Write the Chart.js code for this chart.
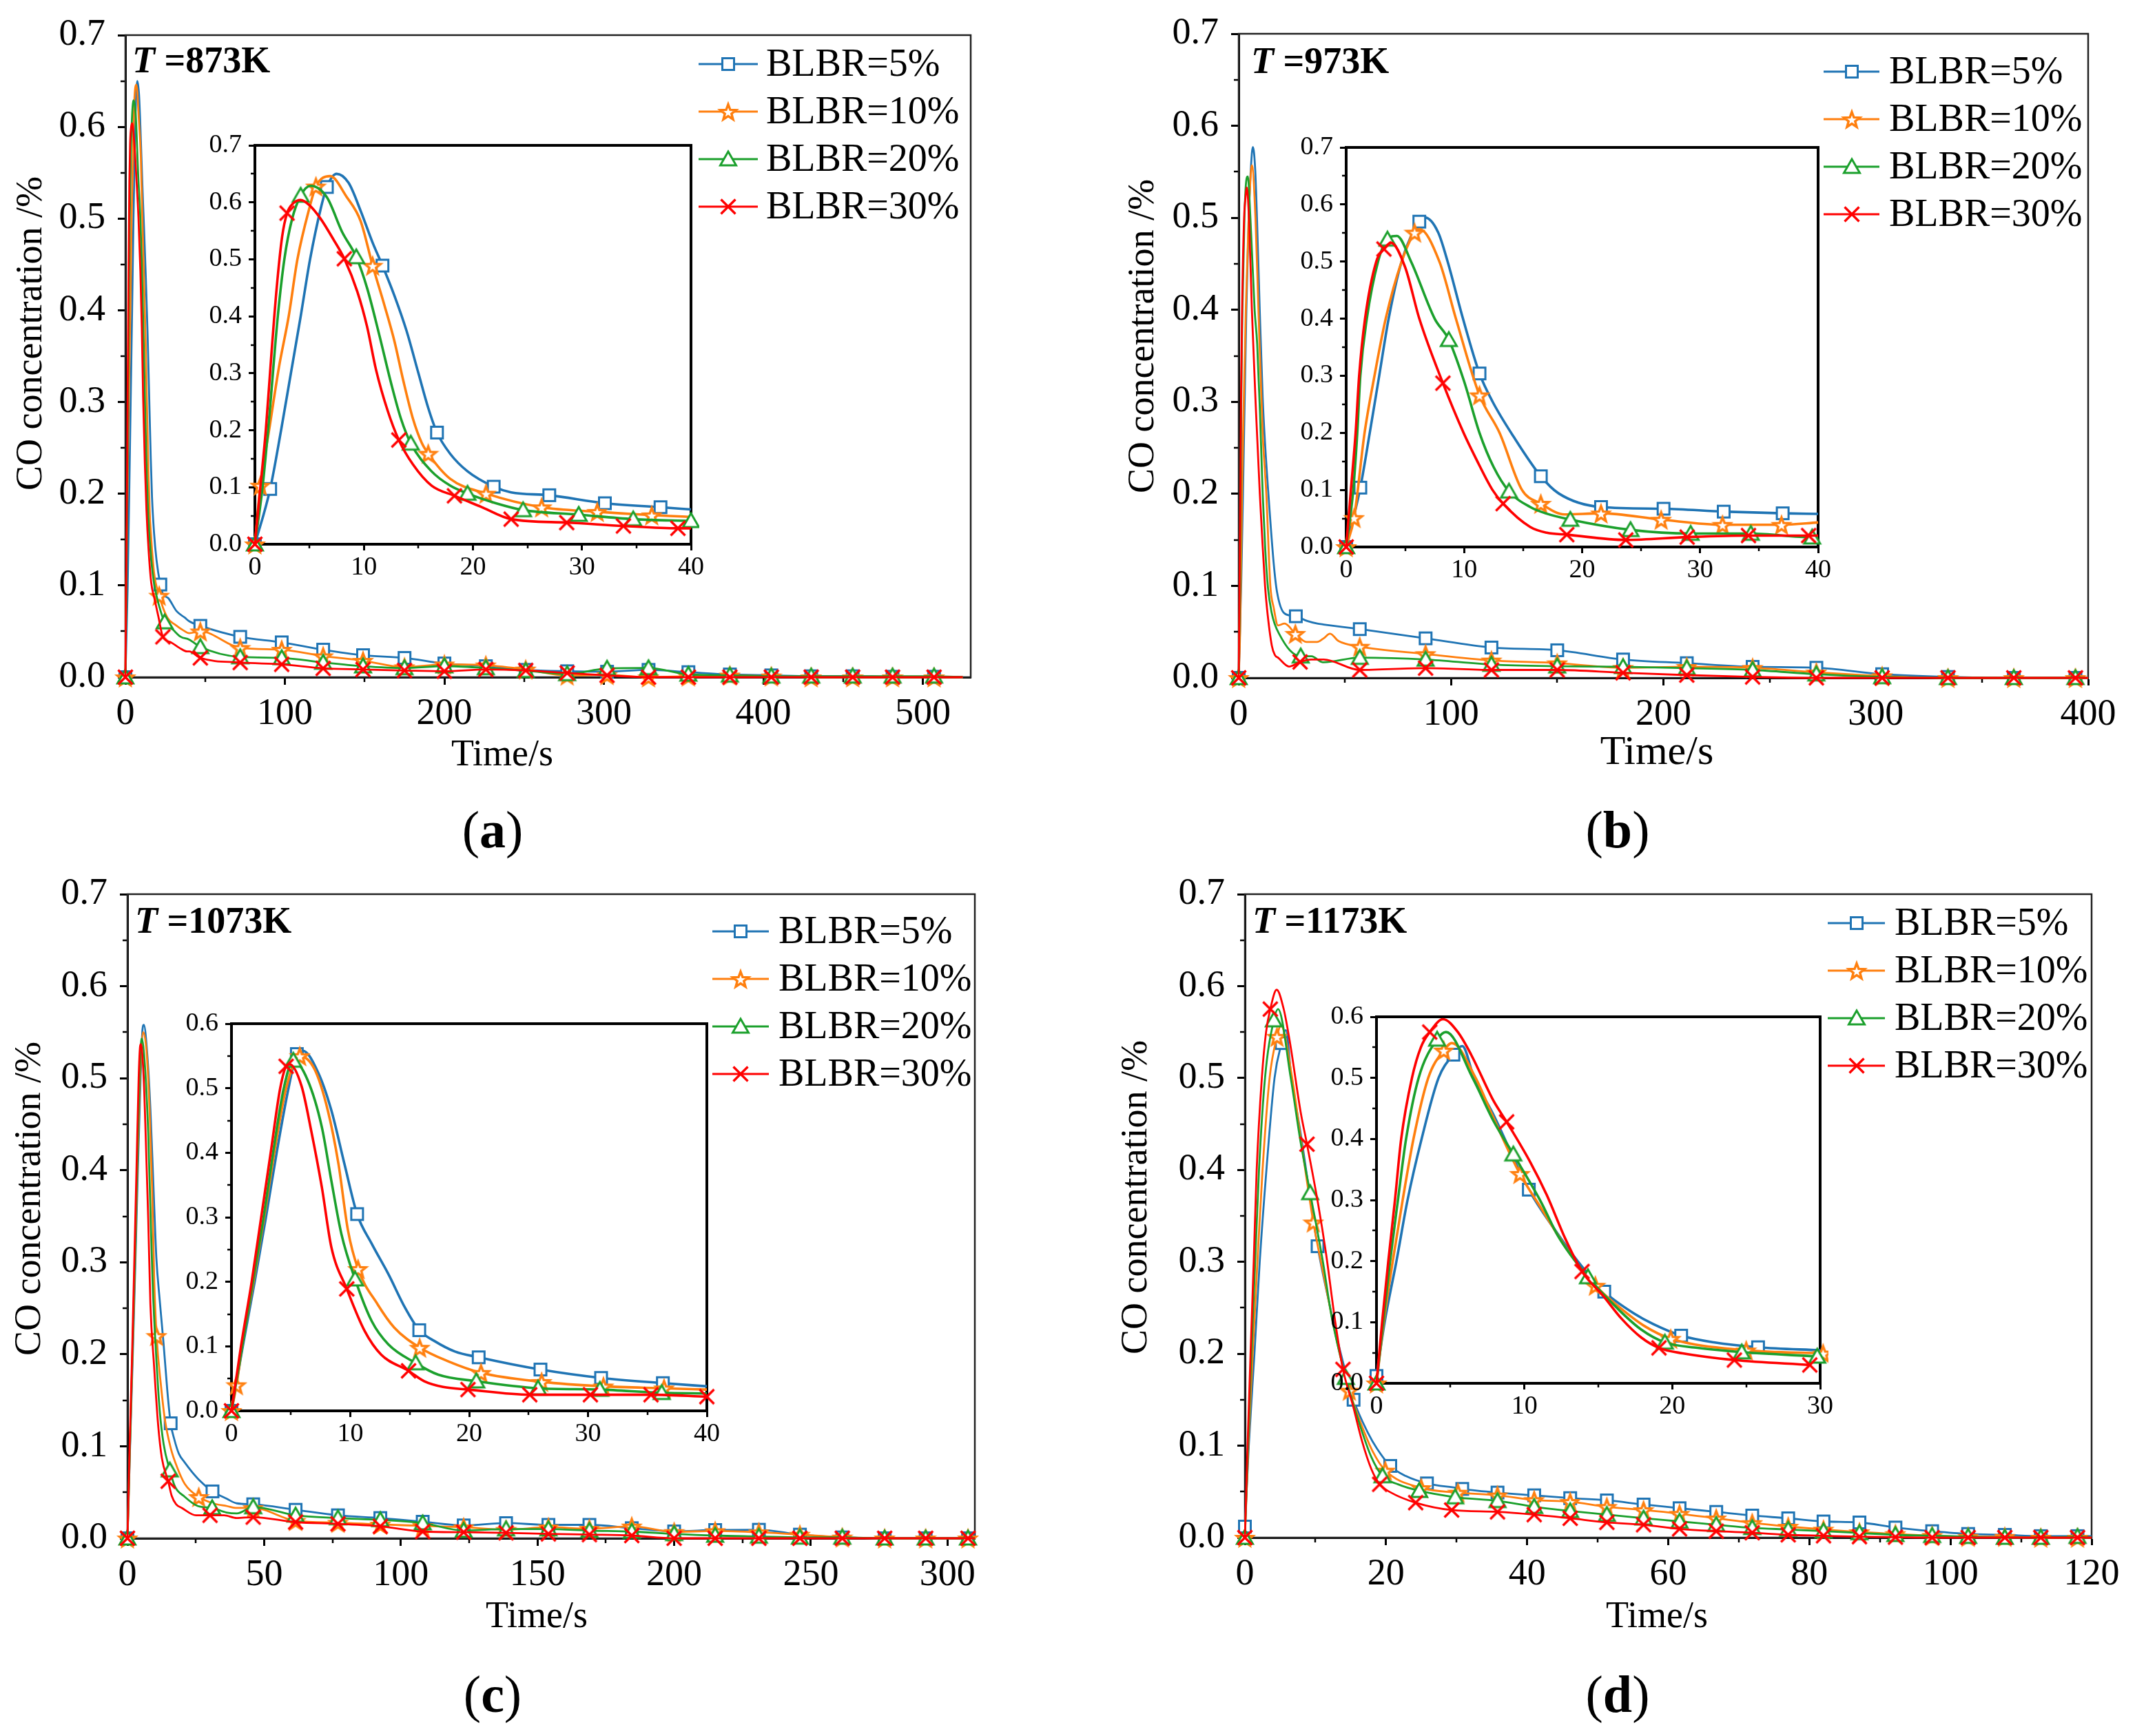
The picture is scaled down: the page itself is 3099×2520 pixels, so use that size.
<!DOCTYPE html>
<html>
<head>
<meta charset="utf-8">
<title>CO concentration vs time, BLBR 5-30%</title>
<script src="https://cdn.jsdelivr.net/npm/chart.js@4.4.1/dist/chart.umd.min.js"></script>
<style>
  html, body { margin: 0; padding: 0; background: #fff; }
  #figure { position: relative; width: 3099px; height: 2520px; background: #fff; overflow: hidden; }
  #figure canvas { position: absolute; }
</style>
</head>
<body>
<div id="figure"></div>
<script>
// ---------- data ----------
// each curve: [time s, CO %] pairs for the first ~40 s, then values on the panel's shared tail times
// *_ins = times that carry a marker in the inset, *_main = early times that carry a marker in the big plot

// (a) T = 873 K
const A_tailT = [47, 72, 98, 124, 149, 175, 200, 226, 251, 277, 302, 328, 353, 379, 405, 430, 456, 481, 507, 525];
const A5 = [[0,0],[1.4,0.097],[2.4,0.2],[3.3,0.3],[4.2,0.4],[5.06,0.5],[6.05,0.59],[6.6,0.627],[7.5,0.65],[8.6,0.634],[9.7,0.585],[10.8,0.529],[11.7,0.489],[12.8,0.436],[13.9,0.375],[15,0.3],[15.9,0.239],[16.7,0.196],[17.9,0.159],[19.5,0.128],[21.9,0.101],[23.5,0.091],[27,0.086],[32.1,0.072],[37.2,0.065],[40,0.061]];
const A5_tail = [0.056,0.044,0.038,0.030,0.024,0.021,0.015,0.012,0.008,0.0065,0.006,0.008,0.0055,0.003,0.002,0.001,0.001,0.0005,0.0005,0.0005];
const A5_ins = [0, 1.4, 6.6, 11.7, 16.7, 21.9, 27, 32.1, 37.2];
const A5_main = [0, 21.9];
const A10 = [[0,0],[0.5,0.103],[1.3,0.2],[2.2,0.31],[3.1,0.4],[3.9,0.5],[5,0.59],[5.6,0.628],[6.9,0.646],[8.4,0.61],[9.7,0.567],[10.8,0.489],[11.9,0.418],[12.8,0.356],[13.6,0.288],[14.5,0.22],[15.3,0.178],[15.9,0.159],[17.9,0.115],[21.2,0.089],[26.3,0.065],[31.4,0.057],[36.4,0.051],[40,0.048]];
const A10_tail = [0.050,0.032,0.030,0.023,0.018,0.011,0.014,0.013,0.0085,0.002,0.0025,0,0.001,0.002,0.001,0,0,0,0,0];
const A10_ins = [0, 0.5, 5.6, 10.8, 15.9, 21.2, 26.3, 31.4, 36.4];
const A10_main = [0, 21.2];
const A20 = [[0,0],[0.7,0.1],[1.3,0.22],[2.1,0.4],[2.7,0.5],[3.4,0.57],[4.2,0.612],[5.1,0.629],[6.6,0.609],[8,0.548],[9.3,0.504],[10.3,0.449],[11.4,0.368],[12.5,0.282],[13.4,0.22],[14.3,0.177],[16.2,0.128],[17.9,0.103],[19.5,0.089],[22.1,0.072],[24.6,0.06],[29.7,0.052],[34.7,0.044],[40,0.041]];
const A20_tail = [0.033,0.022,0.021,0.016,0.012,0.010,0.012,0.010,0.007,0.0035,0.0095,0.010,0.003,0.002,0.001,0.001,0.001,0.001,0.001,0];
const A20_ins = [0, 4.2, 9.3, 14.3, 19.5, 24.6, 29.7, 34.7, 40];
const A20_main = [0, 24.6];
const A30 = [[0,0],[0.5,0.1],[1,0.2],[1.5,0.33],[2,0.45],[2.5,0.54],[2.95,0.581],[3.5,0.598],[4.2,0.604],[5,0.595],[6,0.572],[7.2,0.535],[8.2,0.501],[9.4,0.443],[10.3,0.381],[11.1,0.307],[12.2,0.233],[13.2,0.183],[14.5,0.14],[16.2,0.103],[18.3,0.085],[20.7,0.066],[23.5,0.044],[28.6,0.038],[33.8,0.032],[38.8,0.028],[40,0.028]];
const A30_tail = [0.021,0.016,0.014,0.0096,0.0084,0.0073,0.0065,0.0084,0.0073,0.0046,0.002,0,0,0,0,0,0,0,0,0];
const A30_ins = [0, 2.95, 8.2, 13.2, 18.3, 23.5, 28.6, 33.8, 38.8];
const A30_main = [0, 23.5];

// (b) T = 973 K
const B_tailT = [57, 88, 119, 150, 181, 211, 242, 272, 303, 334, 365, 394, 400];
const B5 = [[0,0],[1.2,0.104],[2,0.2],[2.8,0.3],[3.6,0.4],[4.7,0.5],[6.2,0.57],[6.7,0.577],[7.8,0.551],[8.6,0.5],[9.9,0.4],[11.3,0.304],[12.4,0.255],[14.2,0.193],[16.5,0.124],[18,0.094],[21.6,0.07],[26.9,0.067],[32,0.062],[37,0.059],[40,0.058]];
const B5_tail = [0.053,0.043,0.033,0.030,0.020,0.016,0.012,0.011,0.004,0.001,0,0,0];
const B5_ins = [0, 1.2, 6.2, 11.3, 16.5, 21.6, 26.9, 32, 37];
const B5_main = [0, 26.9];
const B10 = [[0,0],[0.67,0.051],[1.56,0.2],[2.4,0.3],[3.35,0.4],[4.7,0.5],[5.8,0.551],[6.2,0.557],[7.9,0.5],[9.3,0.4],[11.3,0.266],[13,0.2],[14.9,0.1],[16.5,0.076],[18.5,0.057],[21.6,0.059],[26.7,0.048],[31.9,0.039],[36.9,0.039],[40,0.043],[43,0.048],[47,0.04]];
const B10_tail = [0.034,0.026,0.019,0.016,0.011,0.012,0.011,0.006,0.002,0,0,0,0];
const B10_ins = [0, 0.67, 5.8, 11.3, 16.5, 21.6, 26.7, 31.9, 36.9];
const B10_main = [0, 26.7];
const B20 = [[0,0],[0.6,0.1],[0.94,0.2],[1.2,0.3],[1.75,0.4],[2.7,0.5],[3.5,0.539],[4.3,0.545],[5.5,0.5],[7.5,0.4],[8.7,0.363],[10,0.29],[11.3,0.2],[12.5,0.14],[13.8,0.0975],[15.6,0.07],[16.9,0.059],[19,0.048],[24.1,0.03],[29.2,0.0235],[34.3,0.0235],[39.5,0.017],[40,0.017]];
const B20_tail = [0.022,0.020,0.0145,0.0126,0.012,0.0106,0.0086,0.004,0.001,0,0,0,0];
const B20_ins = [0, 3.5, 8.7, 13.8, 19, 24.1, 29.2, 34.3, 39.5];
const B20_main = [0, 29.2];
const B30 = [[0,0],[0.4,0.1],[0.8,0.2],[1.1,0.3],[1.6,0.4],[2.55,0.5],[3.2,0.522],[3.8,0.533],[5,0.49],[6.2,0.4],[8.2,0.287],[9.95,0.2],[11,0.155],[12.4,0.1],[13.3,0.076],[15.6,0.035],[17,0.025],[18.7,0.0216],[23.7,0.0123],[28.9,0.0173],[34.1,0.02],[39.2,0.02],[40,0.02]];
const B30_tail = [0.0086,0.0106,0.0086,0.0086,0.0055,0.003,0.001,0,0,0,0,0,0];
const B30_ins = [0, 3.2, 8.2, 13.3, 18.7, 23.7, 28.9, 34.1, 39.2];
const B30_main = [0, 28.9];

// (c) T = 1073 K
const C_tailT = [46, 61.5, 77, 92.5, 108, 123, 138.5, 154, 169, 184.5, 200, 215, 231, 246, 261.5, 277, 292, 307.5, 310];
const C5 = [[0,0],[0.95,0.1],[1.95,0.2],[2.9,0.3],[3.8,0.4],[4.8,0.5],[5.5,0.553],[6,0.558],[7.3,0.524],[8.4,0.466],[9.5,0.383],[10.57,0.305],[11.8,0.259],[13.2,0.212],[14.6,0.16],[15.8,0.125],[17.1,0.108],[18.8,0.092],[20.8,0.083],[26,0.064],[31.1,0.051],[36.3,0.043],[40,0.038]];
const C5_tail = [0.037,0.031,0.025,0.022,0.018,0.014,0.0165,0.0146,0.0146,0.011,0.0075,0.009,0.0093,0.004,0.001,0,0,0,0];
const C5_ins = [0, 5.5, 10.57, 15.8, 20.8, 26, 31.1, 36.3];
const C5_main = [0, 15.8, 31.1];
const C10 = [[0,0],[0.42,0.04],[0.9,0.1],[1.85,0.2],[2.75,0.3],[3.6,0.4],[4.6,0.5],[5.75,0.55],[7,0.529],[8.1,0.466],[9,0.383],[9.8,0.28],[10.65,0.22],[12.3,0.165],[13.7,0.129],[15.84,0.098],[18.2,0.077],[21,0.059],[26.1,0.045],[31.3,0.038],[36.4,0.035],[40,0.033]];
const C10_tail = [0.033,0.019,0.017,0.015,0.0135,0.012,0.0093,0.012,0.0104,0.013,0.007,0.008,0.0066,0.004,0.001,0,0,0,0];
const C10_ins = [0, 0.42, 5.75, 10.65, 15.84, 21, 26.1, 31.3, 36.4];
const C10_main = [0, 10.65, 26.1];
const C20 = [[0,0],[0.9,0.1],[1.8,0.2],[2.7,0.3],[3.5,0.4],[4.4,0.5],[5.2,0.543],[6.4,0.513],[7.6,0.44],[8.4,0.357],[9.25,0.274],[10.4,0.204],[11.8,0.139],[13.2,0.103],[15.5,0.074],[17.4,0.056],[20.6,0.046],[25.8,0.035],[31,0.033],[36.2,0.028],[40,0.027]];
const C20_tail = [0.034,0.025,0.022,0.020,0.0165,0.0084,0.010,0.010,0.0084,0.0073,0.0048,0.003,0.002,0.001,0.001,0,0,0,0];
const C20_ins = [0, 5.2, 10.4, 15.5, 20.6, 25.8, 31, 36.2];
const C20_main = [0, 15.5, 31];
const C30 = [[0,0],[0.8,0.1],[1.7,0.2],[2.5,0.3],[3.3,0.4],[4.1,0.5],[4.6,0.534],[4.9,0.537],[5.9,0.503],[6.7,0.435],[7.6,0.347],[8.4,0.254],[9.7,0.189],[11.2,0.124],[12.6,0.087],[14.9,0.062],[16.2,0.046],[17.8,0.037],[19.9,0.033],[25.1,0.025],[30.2,0.025],[35.3,0.025],[40,0.022]];
const C30_tail = [0.023,0.0176,0.0157,0.013,0.0073,0.0066,0.0059,0.0048,0.004,0.003,0,0,0,0,0,0,0,0,0];
const C30_ins = [0, 4.6, 9.7, 14.9, 19.9, 25.1, 30.2, 35.3, 40];
const C30_main = [0, 14.9, 30.2];

// (d) T = 1173 K
const D_tailT = [35.8, 41, 46.1, 51.3, 56.5, 61.6, 66.8, 71.9, 77, 82, 87.1, 92.2, 97.4, 102.5, 107.7, 112.8, 118, 120];
const D5 = [[0,0.012],[0.55,0.1],[1.35,0.2],[2.1,0.3],[3.05,0.4],[4.2,0.5],[5.2,0.538],[5.8,0.552],[6.6,0.5],[7.9,0.44],[10.3,0.317],[12.1,0.25],[13.6,0.2],[15.4,0.15],[17.5,0.113],[18.7,0.097],[20.6,0.078],[22.8,0.067],[25.8,0.059],[30,0.054],[30.8,0.053]];
const D5_tail = [0.049,0.046,0.043,0.0405,0.036,0.032,0.028,0.024,0.021,0.0176,0.0165,0.011,0.007,0.004,0.003,0.0016,0.0016,0.0015];
const D5_ins = [0, 5.2, 10.3, 15.4, 20.6, 25.8];
const D5_main = [0, 5.2, 10.3, 15.4, 20.6, 25.8, 30.8];
const D10 = [[0,0],[0.49,0.1],[1.1,0.2],[1.77,0.3],[2.5,0.4],[3.5,0.5],[4.55,0.545],[5.1,0.557],[6.7,0.5],[7.9,0.435],[9.7,0.343],[11.1,0.288],[13.2,0.208],[14.8,0.16],[16.4,0.125],[18.1,0.094],[19.9,0.073],[25,0.054],[30.2,0.049]];
const D10_tail = [0.046,0.041,0.039,0.0335,0.030,0.026,0.021,0.016,0.012,0.0088,0.006,0.004,0.002,0.001,0.001,0,0,0];
const D10_ins = [0, 4.55, 9.7, 14.8, 19.9, 25, 30.2];
const D10_main = [0, 4.55, 9.7, 14.8, 19.9, 25, 30.2];
const D20 = [[0,0],[0.45,0.1],[0.92,0.2],[1.45,0.3],[2,0.4],[2.85,0.5],[4.1,0.563],[4.7,0.575],[6.5,0.5],[7.9,0.43],[9.25,0.375],[11.1,0.298],[12.3,0.24],[14.3,0.174],[16.4,0.12],[17.9,0.088],[19.5,0.067],[21.7,0.058],[24.7,0.051],[29.8,0.044]];
const D20_tail = [0.040,0.0335,0.029,0.025,0.021,0.0176,0.014,0.0106,0.0088,0.007,0.005,0.003,0.002,0.001,0,0,0.001,0];
const D20_ins = [0, 4.1, 9.25, 14.3, 19.5, 24.7, 29.8];
const D20_main = [0, 4.1, 9.25, 14.3, 19.5, 24.7, 29.8];
const D30 = [[0,0],[0.38,0.1],[0.8,0.2],[1.25,0.3],[1.67,0.4],[2.4,0.5],[3,0.55],[3.6,0.575],[4.5,0.596],[5.5,0.575],[6.4,0.538],[7.9,0.463],[8.8,0.428],[10.4,0.362],[11.5,0.309],[12.8,0.235],[13.9,0.183],[15.3,0.144],[16.6,0.105],[17.9,0.075],[19.1,0.058],[20.7,0.049],[24.2,0.038],[29.3,0.03]];
const D30_tail = [0.028,0.025,0.021,0.0166,0.014,0.0095,0.007,0.0053,0.003,0.002,0.001,0.0005,0,0,0,0,0,0];
const D30_ins = [0, 3.6, 8.8, 13.9, 19.1, 24.2, 29.3];
const D30_main = [0, 3.6, 8.8, 13.9, 19.1, 24.2, 29.3];

const SERIES_LABELS = ['BLBR=5%', 'BLBR=10%', 'BLBR=20%', 'BLBR=30%'];
const TEMPS = ['873K', '973K', '1073K', '1173K'];

// ---------- look ----------
const COLORS = ['#1f74b4', '#ff7f0e', '#1ba02c', '#ff0000'];
const MARKER_KINDS = ['square', 'star', 'triangle', 'cross'];
const SERIF = '"Liberation Serif", "Times New Roman", serif';

// layout of the four panels, page pixels
const PANELS = [
  { tag: 'a', box: [0, 0, 1549, 1260], area: [182, 51, 1409, 983], xMax: 530, xStep: 100,
    inset: [370, 211, 1003, 790], insMax: 40, insY: 0.7, legend: [1014, 1100, 1112, 93],
    tLab: [192, 91], xTitle: [729, 1097], yTitle: [46, 484], tagPos: [715, 1230], xTitleSize: 54,
    tailT: A_tailT, series: [[A5, A5_tail, A5_ins, A5_main], [A10, A10_tail, A10_ins, A10_main], [A20, A20_tail, A20_ins, A20_main], [A30, A30_tail, A30_ins, A30_main]] },
  { tag: 'b', box: [1549, 0, 1550, 1260], area: [1798, 49, 3031, 984], xMax: 400, xStep: 100,
    inset: [1954, 214, 2639, 794], insMax: 40, insY: 0.7, legend: [2647, 2728, 2742, 104],
    tLab: [1816, 92], xTitle: [2405, 1093], yTitle: [1660, 488], tagPos: [2348, 1230], xTitleSize: 60,
    tailT: B_tailT, series: [[B5, B5_tail, B5_ins, B5_main], [B10, B10_tail, B10_ins, B10_main], [B20, B20_tail, B20_ins, B20_main], [B30, B30_tail, B30_ins, B30_main]] },
  { tag: 'c', box: [0, 1260, 1549, 1260], area: [185, 1298, 1415, 2233], xMax: 310, xStep: 50,
    inset: [336, 1486, 1026, 2048], insMax: 40, insY: 0.6, legend: [1034, 1116, 1130, 1352],
    tLab: [196, 1340], xTitle: [779, 2348], yTitle: [44, 1740], tagPos: [715, 2485], xTitleSize: 54,
    tailT: C_tailT, series: [[C5, C5_tail, C5_ins, C5_main], [C10, C10_tail, C10_ins, C10_main], [C20, C20_tail, C20_ins, C20_main], [C30, C30_tail, C30_ins, C30_main]] },
  { tag: 'd', box: [1549, 1260, 1550, 1260], area: [1807, 1298, 3036, 2232], xMax: 120, xStep: 20,
    inset: [1998, 1476, 2642, 2008], insMax: 30, insY: 0.6, legend: [2653, 2736, 2750, 1340],
    tLab: [1818, 1340], xTitle: [2405, 2348], yTitle: [1650, 1738], tagPos: [2348, 2485], xTitleSize: 54,
    tailT: D_tailT, series: [[D5, D5_tail, D5_ins, D5_main], [D10, D10_tail, D10_ins, D10_main], [D20, D20_tail, D20_ins, D20_main], [D30, D30_tail, D30_ins, D30_main]] }
];

function makeMarker(kind, color) {
  const c = document.createElement('canvas');
  c.width = 32; c.height = 32;
  const g = c.getContext('2d');
  const m = 16;
  g.strokeStyle = color;
  g.fillStyle = '#fff';
  g.lineWidth = 3;
  g.beginPath();
  if (kind === 'square') {
    g.rect(m - 8.5, m - 8.5, 17, 17);
    g.fill(); g.stroke();
  } else if (kind === 'star') {
    for (let i = 0; i < 10; i++) {
      const r = i % 2 ? 5 : 12;
      const a = -Math.PI / 2 + i * Math.PI / 5;
      g.lineTo(m + r * Math.cos(a), m + 1.5 + r * Math.sin(a));
    }
    g.closePath();
    g.fill();
    g.lineWidth = 3.4;
    g.stroke();
  } else if (kind === 'triangle') {
    g.moveTo(m, m - 11);
    g.lineTo(m + 11.5, m + 9);
    g.lineTo(m - 11.5, m + 9);
    g.closePath();
    g.fill(); g.stroke();
  } else {
    g.lineWidth = 3.4;
    g.moveTo(m - 10.5, m - 10.5); g.lineTo(m + 10.5, m + 10.5);
    g.moveTo(m + 10.5, m - 10.5); g.lineTo(m - 10.5, m + 10.5);
    g.stroke();
  }
  return c;
}
const markers = MARKER_KINDS.map((k, i) => makeMarker(k, COLORS[i]));

function addCanvas(box) {
  const c = document.createElement('canvas');
  c.width = box[2]; c.height = box[3];
  c.style.left = box[0] + 'px'; c.style.top = box[1] + 'px';
  c.style.width = box[2] + 'px'; c.style.height = box[3] + 'px';
  document.getElementById('figure').appendChild(c);
  return c;
}

function lineDataset(i, pts, marks, width) {
  return {
    label: SERIES_LABELS[i],
    data: pts.map(p => ({ x: p[0], y: p[1] })),
    borderColor: COLORS[i],
    backgroundColor: COLORS[i],
    borderWidth: width,
    cubicInterpolationMode: 'monotone',
    pointStyle: markers[i],
    pointRadius: ctx => (ctx.raw && marks.has(ctx.raw.x)) ? 9 : 0,
    pointHoverRadius: 0,
    order: 3 - i,
    clip: { left: 18, top: 6, right: 12, bottom: 18 }
  };
}

function axis(min, max, step, size, tickLen, pad, fmt, fit) {
  return {
    type: 'linear', min: min, max: max,
    afterFit: fit,
    ticks: { stepSize: step, includeBounds: false, autoSkip: false, maxRotation: 0, minRotation: 0,
             color: '#000', font: { family: SERIF, size: size }, padding: pad, callback: fmt },
    grid: { display: true, drawOnChartArea: false, drawTicks: true, tickLength: tickLen, tickWidth: 3, tickColor: '#000' },
    border: { display: true, color: '#000', width: 3 }
  };
}

function decorations(o) {
  return {
    id: 'decorations',
    beforeDraw(chart) {
      if (!o.fill) return;
      const a = chart.chartArea, g = chart.ctx;
      g.save();
      g.fillStyle = '#fff';
      g.fillRect(a.left, a.top, a.right - a.left, a.bottom - a.top);
      g.restore();
    },
    beforeDatasetsDraw(chart) {
      const a = chart.chartArea, g = chart.ctx, xs = chart.scales.x, ys = chart.scales.y;
      g.save();
      g.strokeStyle = '#000';
      g.lineWidth = 2.5;
      g.beginPath();
      for (let v = o.xStep / 2; v < xs.max; v += o.xStep) {
        const px = Math.round(xs.getPixelForValue(v));
        g.moveTo(px, a.bottom); g.lineTo(px, a.bottom + o.minor);
      }
      for (let v = o.yStep / 2; v < ys.max; v += o.yStep) {
        const py = Math.round(ys.getPixelForValue(v));
        g.moveTo(a.left, py); g.lineTo(a.left - o.minor, py);
      }
      g.stroke();
      g.lineWidth = o.frame;
      g.strokeStyle = o.frameColor;
      g.strokeRect(a.left, a.top, a.right - a.left, a.bottom - a.top);
      g.restore();
    },
    afterDraw(chart) {
      if (o.text) o.text(chart.ctx);
    }
  };
}

function drawPanelText(g, p, idx) {
  const ox = p.box[0], oy = p.box[1];
  g.save();
  // legend
  const lx0 = p.legend[0], lx1 = p.legend[1], tx = p.legend[2], ly = p.legend[3];
  for (let i = 0; i < 4; i++) {
    const y = ly + i * 69 - oy;
    g.strokeStyle = COLORS[i];
    g.lineWidth = 3;
    g.beginPath();
    g.moveTo(lx0 - ox, y); g.lineTo(lx1 - ox, y);
    g.stroke();
    const m = markers[i];
    g.drawImage(m, Math.round((lx0 + lx1) / 2 - ox - m.width / 2), Math.round(y - m.height / 2));
    g.fillStyle = '#000';
    g.font = '56px ' + SERIF;
    g.textAlign = 'left';
    g.textBaseline = 'middle';
    g.fillText(SERIES_LABELS[i], tx - ox, y + 2);
  }
  // temperature
  g.fillStyle = '#000';
  g.textAlign = 'left';
  g.textBaseline = 'middle';
  g.font = 'italic bold 54px ' + SERIF;
  const t0 = p.tLab[0] - ox, t1 = p.tLab[1] - oy;
  g.fillText('T', t0, t1);
  const wT = g.measureText('T').width;
  g.font = 'bold 54px ' + SERIF;
  g.fillText(' =' + TEMPS[idx], t0 + wT, t1);
  // axis titles
  g.textAlign = 'center';
  g.font = p.xTitleSize + 'px ' + SERIF;
  g.fillText('Time/s', p.xTitle[0] - ox, p.xTitle[1] - oy);
  g.save();
  g.translate(p.yTitle[0] - ox, p.yTitle[1] - oy);
  g.rotate(-Math.PI / 2);
  g.font = '54px ' + SERIF;
  g.fillText('CO concentration /%', 0, 0);
  g.restore();
  // panel tag (a) ... (d)
  g.textBaseline = 'alphabetic';
  g.font = '76px ' + SERIF;
  const wl = g.measureText('(').width, wr = g.measureText(')').width;
  g.font = 'bold 76px ' + SERIF;
  const wm = g.measureText(p.tag).width;
  const x = p.tagPos[0] - ox - (wl + wm + wr) / 2;
  const y = p.tagPos[1] - oy;
  g.textAlign = 'left';
  g.font = '76px ' + SERIF;
  g.fillText('(', x, y);
  g.font = 'bold 76px ' + SERIF;
  g.fillText(p.tag, x + wl, y);
  g.font = '76px ' + SERIF;
  g.fillText(')', x + wl + wm, y);
  g.restore();
}

const fmtX = v => String(Math.round(v));
const fmtY = v => v.toFixed(1);

PANELS.forEach((p, idx) => {
  // big plot
  const W = p.box[2], H = p.box[3];
  const aL = p.area[0] - p.box[0], aT = p.area[1] - p.box[1], aR = p.area[2] - p.box[0], aB = p.area[3] - p.box[1];
  const mainSets = p.series.map((s, i) => {
    const head = s[0], tail = s[1];
    const pts = head.filter(q => q[0] < p.tailT[0]).concat(p.tailT.map((t, k) => [t, tail[k]]));
    const marks = new Set(s[3].concat(p.tailT.slice(0, -1)));
    return lineDataset(i, pts, marks, 2.8);
  });
  new Chart(addCanvas(p.box), {
    type: 'line',
    data: { datasets: mainSets },
    options: {
      responsive: false, animation: false, devicePixelRatio: 1, events: [],
      layout: { padding: { left: 0, top: aT, right: W - aR, bottom: 0 } },
      plugins: { legend: { display: false }, tooltip: { enabled: false }, title: { display: false } },
      scales: {
        x: axis(0, p.xMax, p.xStep, 54, 11, 10, fmtX, s => { s.height = H - aB; s.paddingLeft = 0; s.paddingRight = 0; }),
        y: axis(0, 0.7, 0.1, 54, 11, 18, fmtY, s => { s.width = aL; s.paddingTop = 0; s.paddingBottom = 0; })
      }
    },
    plugins: [decorations({ fill: false, xStep: p.xStep, yStep: 0.1, minor: 7, frame: 2.5, frameColor: '#222',
                            text: g => drawPanelText(g, p, idx) })]
  });

  // inset
  const L = p.inset[0], T = p.inset[1], R = p.inset[2], B = p.inset[3];
  const ibox = [L - 100, T - 45, (R - L) + 150, (B - T) + 115];
  const insSets = p.series.map((s, i) => {
    const pts = s[0].filter(q => q[0] <= p.insMax + 0.5);
    return lineDataset(i, pts, new Set(s[2]), 3.6);
  });
  new Chart(addCanvas(ibox), {
    type: 'line',
    data: { datasets: insSets },
    options: {
      responsive: false, animation: false, devicePixelRatio: 1, events: [],
      layout: { padding: { left: 0, top: 45, right: 50, bottom: 0 } },
      plugins: { legend: { display: false }, tooltip: { enabled: false }, title: { display: false } },
      scales: {
        x: axis(0, p.insMax, 10, 38, 9, 2, fmtX, s => { s.height = 70; s.paddingLeft = 0; s.paddingRight = 0; }),
        y: axis(0, p.insY, 0.1, 38, 9, 10, fmtY, s => { s.width = 100; s.paddingTop = 0; s.paddingBottom = 0; })
      }
    },
    plugins: [decorations({ fill: true, xStep: 10, yStep: 0.1, minor: 6, frame: 4, frameColor: '#000' })]
  });
});
</script>
</body>
</html>
